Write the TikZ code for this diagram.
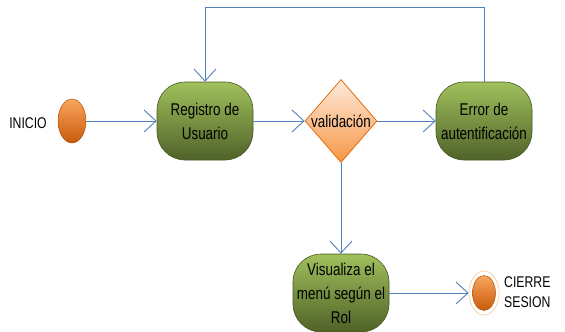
\documentclass[tikz,border=0pt]{standalone}
\usepackage{fontspec}
\newfontfamily\narrowfont[FakeStretch=0.79]{Liberation Sans}
\usetikzlibrary{shapes.geometric,arrows.meta}
\definecolor{lineblue}{RGB}{79,129,189}
\definecolor{gtop}{RGB}{160,192,92}
\definecolor{gbot}{RGB}{79,98,40}
\definecolor{gborder}{RGB}{70,90,35}
\definecolor{otop}{RGB}{250,165,95}
\definecolor{obot}{RGB}{200,90,10}
\definecolor{oborder}{RGB}{175,85,20}
\definecolor{dtop}{RGB}{253,235,220}
\definecolor{dbot}{RGB}{247,150,70}
\definecolor{dborder}{RGB}{228,108,10}
\begin{document}
\begin{tikzpicture}[x=1pt,y=-1pt,
  gbox/.style={rectangle, rounded corners=28pt, minimum width=96pt, minimum height=78pt,
    top color=gtop, bottom color=gbot, draw=gborder, line width=0.6pt, align=center,
    inner sep=2pt, font=\narrowfont\fontsize{17}{24}\selectfont},
  dot/.style={ellipse, minimum width=28pt, minimum height=44pt, inner sep=0pt,
    top color=otop, bottom color=obot, draw=oborder, line width=0.5pt},
  lbl/.style={font=\narrowfont\fontsize{15.5}{20}\selectfont, align=left, inner sep=0pt},
  arr/.style={draw=lineblue, line width=0.9pt, -{Straight Barb[length=12pt,width=22pt,line width=0.9pt]}},
  ln/.style={draw=lineblue, line width=0.9pt}]
\useasboundingbox (0,0) rectangle (565,332);

\node[lbl] (inicio) at (28,123) {INICIO};
\node[dot] (start) at (72,121) {};

\node[gbox] (reg) at (205,121) {Registro de\\Usuario};

\node[diamond, minimum width=72pt, minimum height=83pt, inner sep=0pt,
  top color=dtop, bottom color=dbot, draw=dborder, line width=0.8pt] (dia) at (341,121) {};
\node[font=\narrowfont\fontsize{17}{24}\selectfont, inner sep=0pt] (diatext) at (dia.center) {validación};

\node[gbox] (err) at (484,121) {Error de\\autentificación};

\node[gbox] (vis) at (341,293) {Visualiza el\\menú según el\\Rol};

\node[ellipse, minimum width=30pt, minimum height=44pt, inner sep=0pt,
  draw=orange!35, line width=0.8pt] (endring) at (484,293) {};
\node[dot, minimum width=23pt, minimum height=35pt] (enddot) at (endring.center) {};
\node[lbl, anchor=west] (cierre) at (504,292) {CIERRE\\SESION};

\draw[arr] (start.east) -- (reg.west);
\draw[arr] (reg.east) -- (dia.west);
\draw[arr] (dia.east) -- (err.west);
\draw[arr] (dia.south) -- (vis.north);
\draw[arr] (vis.east) -- (endring.west);
\draw[arr] (err.north) -- (err.north |- 0,7) -| (reg.north);
\end{tikzpicture}
\end{document}
